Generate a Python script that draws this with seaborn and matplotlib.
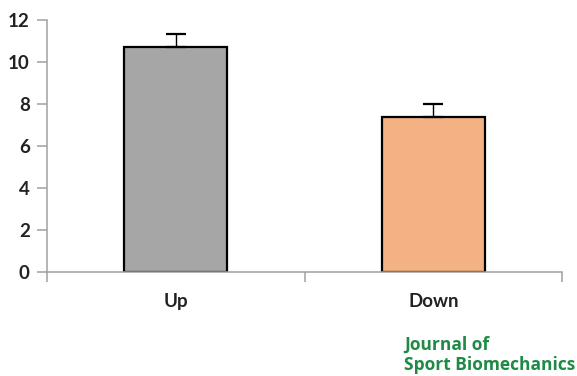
import matplotlib
matplotlib.use("Agg")
import matplotlib.pyplot as plt
import seaborn as sns
import pandas as pd
import numpy as np

categories = ["Up", "Down"]
values = [10.70, 7.37]
errors = [0.63, 0.63]
colors = ["#a6a6a6", "#f4b183"]
yticks = [0, 2, 4, 6, 8, 10, 12]

sns.set_style("white")
plt.rcParams['font.family'] = ['Lato', 'DejaVu Sans']

df = pd.DataFrame({"cat": categories, "val": values})

fig = plt.figure(figsize=(5.77, 3.76), dpi=100)
ax = fig.add_axes([47/577, 1-272/376, (562-47)/577, (272-20)/376])

sns.barplot(data=df, x="cat", y="val", hue="cat", palette=colors, legend=False,
            width=0.40, edgecolor="black", linewidth=1.6, errorbar=None,
            saturation=1, ax=ax)
ax.errorbar(x=np.arange(len(categories)), y=values,
            yerr=[np.zeros(len(errors)), errors], fmt="none",
            ecolor="black", elinewidth=1.0, capsize=7, capthick=1.6, zorder=1)

ax.set_xlim(-0.5, 1.5)
ax.set_ylim(0, 12)
ax.set_yticks(yticks)
ax.set_yticklabels([str(t) for t in yticks], fontsize=13.5, fontweight="bold", color="#222222")
ax.set_xticks(range(len(categories)))
ax.set_xticklabels(categories, fontsize=13.5, fontweight="bold", color="#222222")
ax.set_xticks([-0.5, 0.5, 1.5], minor=True)
ax.tick_params(axis="x", which="major", length=0, pad=15)
ax.tick_params(axis="x", which="minor", length=7.5, width=1.1, color="#a0a0a0", direction="out", bottom=True)
ax.tick_params(axis="y", length=7.5, width=1.1, color="#a0a0a0", direction="out", left=True, pad=5)
ax.set_xlabel("")
ax.set_ylabel("")

for s in ["top", "right"]:
    ax.spines[s].set_visible(False)
for s in ["left", "bottom"]:
    ax.spines[s].set_color("#a0a0a0")
    ax.spines[s].set_linewidth(1.1)

fig.text(404/577, 1-355/376, "Journal of\nSport Biomechanics", color="#1e8a45",
         fontsize=12.5, fontweight="bold", ha="left", va="center", linespacing=1.15,
         family=["Open Sans", "DejaVu Sans"])

fig.savefig("out.png", dpi=100)
